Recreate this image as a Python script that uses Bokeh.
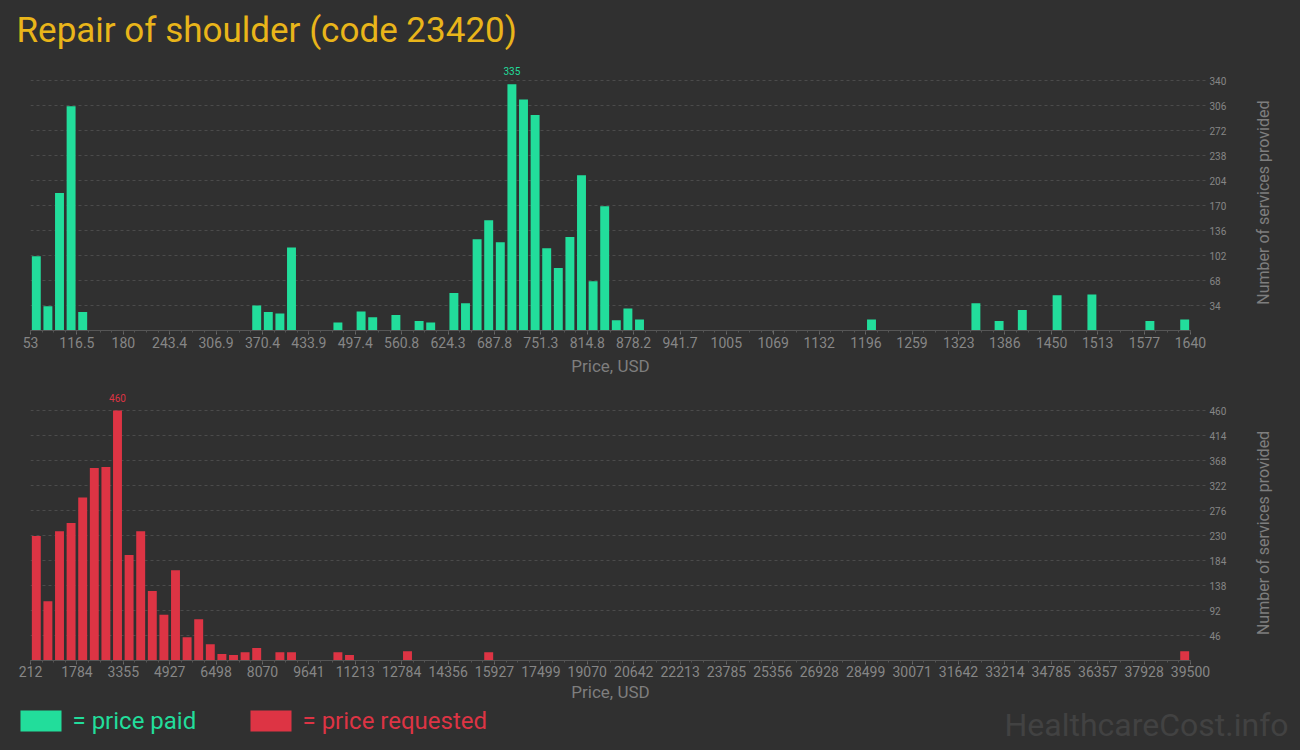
import math
import numpy as np
from bokeh.plotting import figure
from bokeh.models import FixedTicker, Range1d
from bokeh.layouts import column, row
from bokeh.embed import file_html
from bokeh.resources import INLINE
from bokeh.core.properties import value

# ---------------- data ----------------
title_text = "Repair of shoulder (code 23420)"

paid_min, paid_max = 53, 1640
paid_counts = [
    101, 33, 187, 305, 25, 0, 0, 0, 0, 0,
    0, 0, 0, 0, 0, 0, 0, 0, 0, 34,
    25, 23, 113, 0, 0, 0, 11, 0, 26, 18,
    0, 21, 0, 13, 11, 0, 51, 37, 124, 150,
    120, 335, 314, 293, 112, 85, 127, 211, 67, 169,
    14, 30, 15, 0, 0, 0, 0, 0, 0, 0,
    0, 0, 0, 0, 0, 0, 0, 0, 0, 0,
    0, 0, 15, 0, 0, 0, 0, 0, 0, 0,
    0, 37, 0, 13, 0, 28, 0, 0, 48, 0,
    0, 49, 0, 0, 0, 0, 13, 0, 0, 15,
]
paid_tick_labels = ["53", "116.5", "180", "243.4", "306.9", "370.4", "433.9", "497.4",
                    "560.8", "624.3", "687.8", "751.3", "814.8", "878.2", "941.7", "1005",
                    "1069", "1132", "1196", "1259", "1323", "1386", "1450", "1513", "1577", "1640"]
paid_y_ticks = [34, 68, 102, 136, 170, 204, 238, 272, 306, 340]

req_min, req_max = 212, 39500
req_counts = [
    229, 109, 238, 253, 300, 354, 356, 460, 194, 238,
    128, 84, 166, 43, 76, 30, 12, 10, 15, 23,
    0, 15, 15, 0, 0, 0, 15, 10, 0, 0,
    0, 0, 17, 0, 0, 0, 0, 0, 0, 15,
    0, 0, 0, 0, 0, 0, 0, 0, 0, 0,
    0, 0, 0, 0, 0, 0, 0, 0, 0, 0,
    0, 0, 0, 0, 0, 0, 0, 0, 0, 0,
    0, 0, 0, 0, 0, 0, 0, 0, 0, 0,
    0, 0, 0, 0, 0, 0, 0, 0, 0, 0,
    0, 0, 0, 0, 0, 0, 0, 0, 0, 17,
]
req_tick_labels = ["212", "1784", "3355", "4927", "6498", "8070", "9641", "11213", "12784",
                   "14356", "15927", "17499", "19070", "20642", "22213", "23785", "25356",
                   "26928", "28499", "30071", "31642", "33214", "34785", "36357", "37928", "39500"]
req_y_ticks = [46, 92, 138, 184, 230, 276, 322, 368, 414, 460]

x_label = "Price, USD"
y_label = "Number of services provided"
legend_labels = ["= price paid", "= price requested"]
watermark = "HealthcareCost.info"

# ---------------- style ----------------
BG = "#303030"
GREEN = "#22dd9b"
RED = "#dd3444"
GOLD = "#e9b51a"
GRID = "#4b4b4b"
TICK_TXT = "#868686"
AXIS_TXT = "#7e7e7e"
FONT = "Roboto"


def canvas(w, h):
    """A blank panel whose data units are pixels (y up)."""
    c = figure(width=w, height=h, x_range=Range1d(0, w), y_range=Range1d(0, h),
               output_backend="svg", toolbar_location=None,
               x_axis_location=None, y_axis_location=None,
               min_border=0, min_border_left=0, min_border_right=0,
               min_border_top=0, min_border_bottom=0,
               background_fill_color=BG, border_fill_color=BG, outline_line_color=None)
    c.grid.visible = False
    return c


def make_chart(counts, lo, hi, tick_labels, yticks, color, height, b_top, b_bottom,
               tick_standoff, lab_standoff):
    n = len(counts)
    edges = np.linspace(lo, hi, n + 1)
    centers = (edges[:-1] + edges[1:]) / 2
    binw = (hi - lo) / n
    frame_h = height - b_top - b_bottom
    ytop = yticks[-1] * frame_h / 250.0
    p = figure(width=1240, height=height, x_range=Range1d(lo, hi), y_range=Range1d(0, ytop),
               output_backend="svg", toolbar_location=None, y_axis_location="right",
               min_border_left=30, min_border_right=50,
               min_border_top=b_top, min_border_bottom=b_bottom,
               background_fill_color=BG, border_fill_color=BG, outline_line_color=None)

    cnt = np.array(counts)
    nz = cnt > 0
    p.vbar(x=centers[nz], top=cnt[nz], width=binw * 0.77, fill_color=color, line_color=None)

    i = int(np.argmax(cnt))
    p.text(x=[centers[i]], y=[cnt[i]], text=[str(cnt[i])], text_align="center",
           text_baseline="bottom", y_offset=-9, text_font=value(FONT),
           text_font_size="10px", text_color=color)

    ticks = [float(t) for t in tick_labels]
    xa = p.xaxis[0]
    xa.ticker = FixedTicker(ticks=ticks, minor_ticks=list(edges))
    xa.major_label_overrides = {float(t): t for t in tick_labels}
    xa.axis_line_color = "#565656"
    xa.major_tick_line_color = "#6a6a6a"
    xa.minor_tick_line_color = "#555555"
    xa.major_tick_in = 0
    xa.major_tick_out = 4
    xa.minor_tick_in = 0
    xa.minor_tick_out = 2
    xa.major_label_standoff = tick_standoff
    xa.major_label_text_font = FONT
    xa.major_label_text_font_size = "14px"
    xa.major_label_text_color = TICK_TXT
    xa.axis_label = x_label
    xa.axis_label_standoff = lab_standoff
    xa.axis_label_text_font = FONT
    xa.axis_label_text_font_size = "17px"
    xa.axis_label_text_font_style = "normal"
    xa.axis_label_text_color = AXIS_TXT

    ya = p.yaxis[0]
    ya.ticker = FixedTicker(ticks=yticks)
    ya.axis_line_color = None
    ya.major_tick_in = 0
    ya.major_tick_out = 15
    ya.major_tick_line_color = GRID
    ya.major_tick_line_dash = "3 3"
    ya.minor_tick_line_color = None
    ya.major_label_standoff = 4
    ya.major_label_text_font = FONT
    ya.major_label_text_font_size = "10px"
    ya.major_label_text_color = TICK_TXT

    p.xgrid.visible = False
    p.ygrid.grid_line_color = GRID
    p.ygrid.grid_line_dash = "3 3"
    return p


def side_label(height, anchor_y):
    # rotated text that reads upwards
    s = canvas(60, height)
    s.text(x=[23], y=[anchor_y], text=[y_label], angle=math.pi / 2,
           text_align="left", text_baseline="middle", text_font=value(FONT),
           text_font_size="16px", text_color=AXIS_TXT)
    return s


# header (page y 0-60)
header = canvas(1300, 60)
header.text(x=[16], y=[60 - 30], text=[title_text], text_baseline="middle",
            text_font=value(FONT), text_font_size="35px", text_color=GOLD)

# top chart (page y 60-385), frame 60..330
top = make_chart(paid_counts, paid_min, paid_max, paid_tick_labels, paid_y_ticks, GREEN,
                 325, 0, 55, 2, 5)
top_side = side_label(325, 31)

# bottom chart (page y 385-704), frame 390..660
bottom = make_chart(req_counts, req_min, req_max, req_tick_labels, req_y_ticks, RED,
                    319, 5, 44, 1, 2)
bottom_side = side_label(319, 30)

# footer (page y 704-750)
FH = 46
footer = canvas(1300, FH)
footer.quad(left=[20, 250], right=[61, 291], bottom=[FH - 27, FH - 27], top=[FH - 6, FH - 6],
            fill_color=[GREEN, RED], line_color=None)
footer.text(x=[72, 302], y=[FH - 16, FH - 16], text=legend_labels, text_baseline="middle",
            text_font=value(FONT), text_font_size="24px", text_color=[GREEN, RED])
footer.text(x=[1288], y=[FH - 20], text=[watermark], text_align="right",
            text_baseline="middle", text_font=value(FONT), text_font_size="32px",
            text_color="#424242")

layout = column(header, row(top, top_side), row(bottom, bottom_side), footer)

page_style = ("{% block preamble %}<style>html, body { margin: 0; padding: 0; "
              "background: #303030; overflow: hidden; }</style>{% endblock %}")
html = file_html(layout, INLINE, title=title_text, template=page_style)
open("out.html", "w").write(html)
